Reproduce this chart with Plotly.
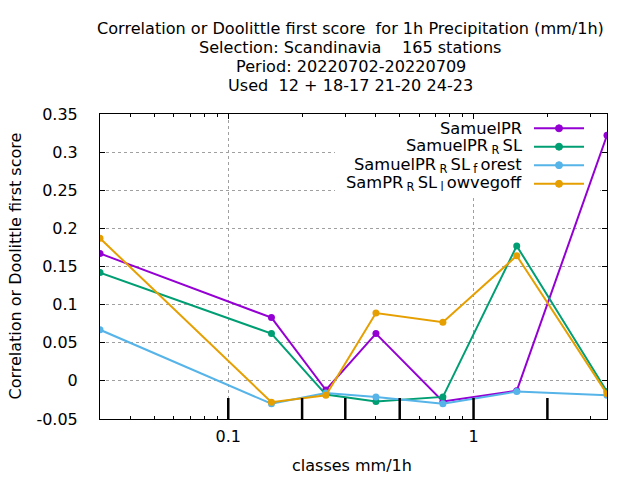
import plotly.graph_objects as go
import numpy as np

# class centres (mm/1h) and scores
classes = [0.03, 0.15, 0.25, 0.4, 0.75, 1.5, 3.5]
samuel_pr = [0.167, 0.083, -0.012, 0.062, -0.027, -0.013, 0.322]
samuel_pr_rsl = [0.142, 0.062, -0.018, -0.027, -0.021, 0.177, -0.014]
samuel_pr_rsl_forest = [0.067, -0.030, -0.016, -0.021, -0.030, -0.014, -0.019]
sampr_rsl_lowvegoff = [0.187, -0.028, -0.019, 0.089, 0.077, 0.164, -0.017]

class_bounds = [0.1, 0.2, 0.3, 0.5, 1, 2]
minor_vals = [0.04, 0.05, 0.06, 0.07, 0.08, 0.09, 0.2, 0.3, 0.4, 0.5, 0.6, 0.7, 0.8, 0.9, 2, 3]

sp = "&#8201;"
names = ["SamuelPR",
         "SamuelPR" + sp + "<sub>R</sub>" + sp + "SL",
         "SamuelPR" + sp + "<sub>R</sub>" + sp + "SL" + sp + "<sub>f</sub>" + sp + "orest",
         "SamPR" + sp + "<sub>R</sub>" + sp + "SL" + sp + "<sub>l</sub>" + sp + "owvegoff"]
series = [samuel_pr, samuel_pr_rsl, samuel_pr_rsl_forest, sampr_rsl_lowvegoff]
colors = ["#9400d3", "#009e73", "#56b4e9", "#e69f00"]

FONT = "DejaVu Sans"
XLO, XHI = np.log10(0.03), np.log10(3.5)
YLO, YHI = -0.05, 0.35
W, H = 507.0, 305.0


def px_to_x(px):
    return 10 ** (XLO + (px - 100) / W * (XHI - XLO))


def py_to_y(py):
    return YLO + (419 - py) / H * (YHI - YLO)


fig = go.Figure()

# key box sits between the grid and the data, like gnuplot's opaque key
fig.add_shape(type="rect", xref="x", yref="y",
              x0=px_to_x(335), x1=px_to_x(600), y0=py_to_y(195), y1=YHI,
              fillcolor="white", line=dict(width=0), layer="between")

for nm, ys, c in zip(names, series, colors):
    fig.add_trace(go.Scatter(x=classes, y=ys, name=nm, mode="lines+markers",
                             line=dict(color=c, width=2),
                             marker=dict(color=c, size=7, symbol="circle"),
                             showlegend=False))

# thick class boundary marks along the bottom
fig.add_trace(go.Scatter(x=class_bounds, y=[YLO] * len(class_bounds), mode="markers",
                         marker=dict(symbol="line-ns", size=30,
                                     line=dict(color="black", width=2.5)),
                         showlegend=False, hoverinfo="skip"))

row_y = [128.3, 146.7, 165.2, 183.8]
for nm, c, py in zip(names, colors, row_y):
    yd = (419 - py) / H
    fig.add_annotation(xref="x domain", yref="y domain", x=(524 - 100) / W, y=yd,
                       text=nm, showarrow=False, xanchor="right", yanchor="middle",
                       font=dict(family=FONT, size=16.3, color="black"))
    fig.add_shape(type="line", xref="paper", yref="paper",
                  x0=(534 - 100) / W, x1=(584 - 100) / W, y0=yd, y1=yd,
                  line=dict(color=c, width=2), layer="above")
    fig.add_shape(type="circle", xref="paper", yref="paper",
                  xsizemode="pixel", ysizemode="pixel",
                  xanchor=(559 - 100) / W, yanchor=yd,
                  x0=-3.5, x1=3.5, y0=-3.5, y1=3.5,
                  fillcolor=c, line=dict(color=c, width=1), layer="above")

title_lines = [
    "Correlation or Doolittle first score &nbsp;for 1h Precipitation (mm/1h)",
    "Selection: Scandinavia &nbsp; &nbsp;165 stations",
    "Period: 20220702-20220709",
    "Used &nbsp;12 + 18-17 21-20 24-23",
]
title_y = [28.3, 47.3, 66.7, 85.7]
for txt, py in zip(title_lines, title_y):
    fig.add_annotation(xref="paper", yref="paper", x=0.495, y=(419 - py) / H,
                       text=txt, showarrow=False, xanchor="center", yanchor="middle",
                       font=dict(family=FONT, size=16.1, color="black"))

# axis titles
fig.add_annotation(xref="paper", yref="paper", x=(15 - 100) / W, y=0.5,
                   text="Correlation or Doolittle first score", textangle=-90,
                   showarrow=False, xanchor="center", yanchor="middle",
                   font=dict(family=FONT, size=16, color="black"))
fig.add_annotation(xref="paper", yref="paper", x=(352 - 100) / W, y=(419 - 465.7) / H,
                   text="classes mm/1h", showarrow=False,
                   xanchor="center", yanchor="middle",
                   font=dict(family=FONT, size=16, color="black"))

fig.update_layout(
    width=640, height=480,
    margin=dict(l=100, r=33, t=114, b=61),
    paper_bgcolor="white", plot_bgcolor="white",
    font=dict(family=FONT, size=16, color="black"),
    showlegend=False,
)

fig.update_xaxes(type="log", range=[XLO, XHI],
                 tickmode="array", tickvals=[0.1, 1], ticktext=["0.1", "1"],
                 ticks="inside", ticklen=5, tickcolor="black",
                 showline=True, linecolor="black", linewidth=1, mirror="ticks",
                 showgrid=True, gridcolor="#a0a0a0", griddash="dot", gridwidth=1,
                 minor=dict(tickmode="array", tickvals=minor_vals, ticks="inside",
                            ticklen=3, tickcolor="black", showgrid=False),
                 ticklabelstandoff=3, automargin=False)
fig.update_yaxes(range=[YLO, YHI], tickmode="array",
                 tickvals=[-0.05, 0, 0.05, 0.1, 0.15, 0.2, 0.25, 0.3, 0.35],
                 ticktext=["-0.05", "0", "0.05", "0.1", "0.15", "0.2", "0.25", "0.3", "0.35"],
                 ticks="inside", ticklen=5, tickcolor="black",
                 showline=True, linecolor="black", linewidth=1, mirror="ticks",
                 showgrid=True, gridcolor="#a0a0a0", griddash="dot", gridwidth=1,
                 zeroline=False, ticklabelstandoff=18, automargin=False)

# page body margin would shift the 640x480 figure inside the window
fig.write_html("out.html", config={"displayModeBar": False},
               post_script="document.body.style.margin='0';")
